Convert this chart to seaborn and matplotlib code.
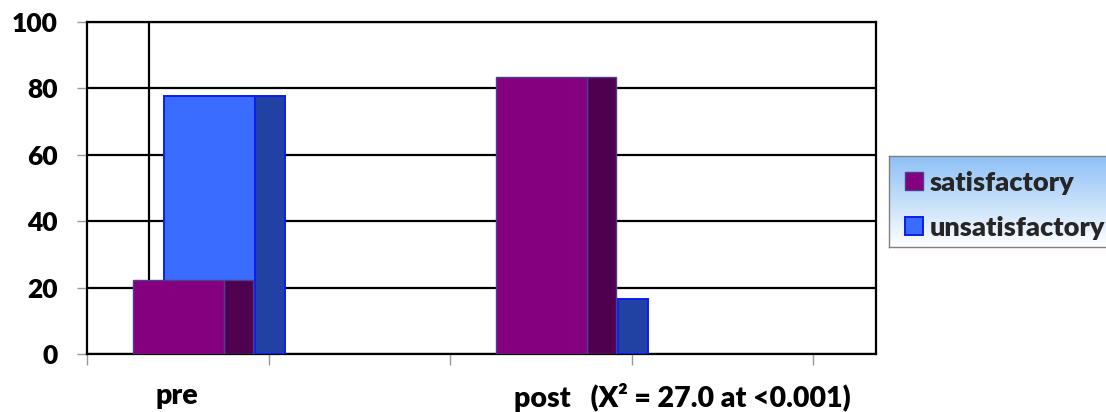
import numpy as np
import matplotlib
matplotlib.use("Agg")
import matplotlib.pyplot as plt
from matplotlib.patches import Patch
from matplotlib.colors import LinearSegmentedColormap
import seaborn as sns

# Share of students (%) rated satisfactory / unsatisfactory, before and after
categories = ["pre", "post   (X\u00b2 = 27.0 at <0.001)"]
satisfactory = [22.2, 83.3]
unsatisfactory = [77.8, 16.7]
series_names = ["satisfactory", "unsatisfactory"]
y_ticks = [0, 20, 40, 60, 80, 100]

sns.set_style("white")
plt.rcParams["font.family"] = ["Lato", "DejaVu Sans"]
TEXT_WEIGHT = "heavy"

W, H = 1106, 412
fig = plt.figure(figsize=(W / 100, H / 100), dpi=100)
ax = fig.add_axes([87 / W, 58 / H, 789 / W, 332 / H])

# group positions on a numeric x axis (one unit = one tick interval)
group_pos = np.array([0.504, 2.504])
spacing = group_pos[1] - group_pos[0]
front_w, side_w = 0.50, 0.162

sat_face, sat_side, sat_edge = "#85007F", "#4F004F", "#4A3F8F"
uns_face, uns_side, uns_edge = "#3A6CFF", "#2141A3", "#0A1EF0"

# pseudo-3D columns: a front face plus a darker side face for each series;
# the unsatisfactory series sits one step deeper, behind the satisfactory one
layers = [
    (unsatisfactory, 0.504, side_w, uns_side, uns_edge, 1.4),
    (unsatisfactory, 0.171, front_w, uns_face, uns_edge, 1.4),
    (satisfactory, 0.331, side_w, sat_side, sat_edge, 1.0),
    (satisfactory, 0.0, front_w, sat_face, sat_edge, 1.0),
]
for values, offset, width, face, edge, lw in layers:
    sns.barplot(
        x=group_pos + offset, y=values, native_scale=True, orient="x",
        width=width / spacing, color=face, edgecolor=edge, linewidth=lw,
        saturation=1, errorbar=None, ax=ax, zorder=3,
    )

ax.set_xlim(0, 789 / 181.5)
ax.set_ylim(0, 100)
ax.set_xlabel("")
ax.set_ylabel("")

# back-wall corner line and horizontal gridlines
ax.axvline(0.342, color="black", lw=1.6, zorder=1)
ax.set_yticks(y_ticks)
ax.yaxis.grid(True, color="black", lw=1.6, zorder=1)
ax.xaxis.grid(False)
ax.set_axisbelow(True)

for side in ["left", "right", "top", "bottom"]:
    ax.spines[side].set_visible(True)
    ax.spines[side].set_color("black")
    ax.spines[side].set_linewidth(1.6)

ax.tick_params(axis="y", which="major", left=True, length=7, width=1,
               color="#9A9A9A", pad=14, labelsize=19, labelcolor="black")

ax.set_xticks([0, 1, 2, 3, 4])
ax.set_xticklabels([])
ax.tick_params(axis="x", which="major", bottom=True, length=8, width=1,
               color="#9A9A9A")
ax.set_xticks([0.496, 3.278], minor=True)
ax.set_xticklabels(categories, minor=True)
ax.tick_params(axis="x", which="minor", bottom=True, length=0, pad=21,
               labelsize=20.5, labelcolor="black")
for t in ax.get_yticklabels() + ax.get_xticklabels(minor=True):
    t.set_fontweight(TEXT_WEIGHT)

# legend panel with a light-blue to white gradient fill
lax = fig.add_axes([889 / W, (H - 247) / H, 230 / W, 91 / H])
grad_cmap = LinearSegmentedColormap.from_list("legend_fill", ["#8DC0F6", "#FFFFFF"])
lax.imshow(np.linspace(0, 1, 256).reshape(-1, 1), aspect="auto", cmap=grad_cmap,
           extent=[0, 1, 0, 1], origin="upper")
lax.set_xticks([])
lax.set_yticks([])
for s in lax.spines.values():
    s.set_color("#808080")
    s.set_linewidth(1)
handles = [
    Patch(facecolor=sat_face, edgecolor=sat_edge, linewidth=1.0),
    Patch(facecolor=uns_face, edgecolor=uns_edge, linewidth=1.4),
]
lax.legend(handles, series_names, loc="center left", bbox_to_anchor=(0.0, 0.46),
           frameon=False, prop={"size": 19.5, "weight": TEXT_WEIGHT},
           handlelength=0.65, handleheight=0.65, handletextpad=0.25,
           labelspacing=0.78, borderaxespad=0.3, borderpad=0.3)

fig.savefig("out.png", dpi=100)
